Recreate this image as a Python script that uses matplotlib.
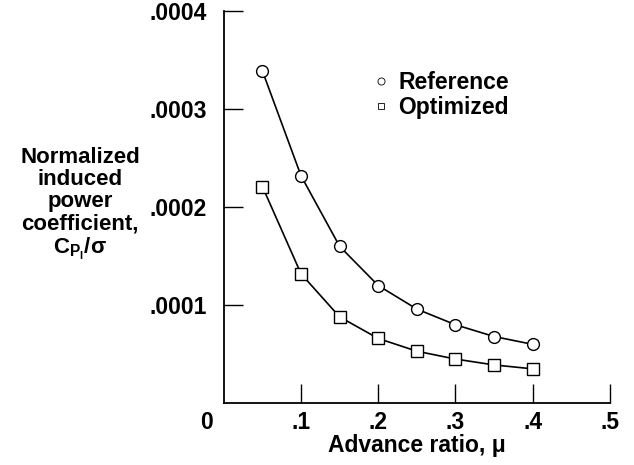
"""
Induced power coefficient vs advance ratio, reference and optimized rotor
"""

import matplotlib
matplotlib.use('Agg')
import matplotlib.pyplot as plt

mu = [0.05, 0.10, 0.15, 0.20, 0.25, 0.30, 0.35, 0.40]
cp_reference = [3.39e-4, 2.32e-4, 1.60e-4, 1.20e-4, 0.96e-4, 0.80e-4, 0.68e-4, 0.60e-4]
cp_optimized = [2.21e-4, 1.32e-4, 0.88e-4, 0.66e-4, 0.53e-4, 0.45e-4, 0.39e-4, 0.35e-4]

xticks = [0.1, 0.2, 0.3, 0.4, 0.5]
xticklabels = ['.1', '.2', '.3', '.4', '.5']
yticks = [0.0001, 0.0002, 0.0003, 0.0004]
yticklabels = ['.0001', '.0002', '.0003', '.0004']

plt.rcParams['font.family'] = ['Liberation Sans', 'DejaVu Sans']
plt.rcParams['font.weight'] = 'bold'
plt.rcParams['mathtext.fontset'] = 'custom'
plt.rcParams['mathtext.rm'] = 'Liberation Sans:bold'
plt.rcParams['mathtext.it'] = 'Liberation Sans:bold'


def main():
    fig = plt.figure(figsize=(6.34, 4.65), dpi=100)
    ax = fig.add_axes([0.353, 0.133, 0.609, 0.843])

    ax.plot(mu, cp_reference, '-', color='k', lw=1.2, marker='o', ms=8.5,
            mfc='white', mec='k', mew=1.0, label='Reference')
    ax.plot(mu, cp_optimized, '-', color='k', lw=1.2, marker='s', ms=8,
            mfc='white', mec='k', mew=1.0, label='Optimized')

    ax.set_xlim(0, 0.5)
    ax.set_ylim(0, 0.0004)
    ax.spines['top'].set_visible(False)
    ax.spines['right'].set_visible(False)
    for s in ('left', 'bottom'):
        ax.spines[s].set_linewidth(1.3)

    ax.set_xticks(xticks)
    ax.set_xticklabels(xticklabels)
    ax.set_yticks(yticks)
    ax.set_yticklabels(yticklabels)
    ax.tick_params(direction='in', length=14, width=1.0, labelsize=16.5, pad=6)
    ax.tick_params(axis='y', pad=12)

    # shared origin label
    ax.text(-0.023, -0.0000085, '0', ha='center', va='top', fontsize=16.5,
            fontweight='bold')

    ax.set_xlabel('Advance ratio, \u03bc', fontsize=16.5, fontweight='bold',
                  labelpad=0)
    fig.text(0.126, 0.56,
             'Normalized\ninduced\npower\ncoefficient,\n$\\mathregular{C_{P_l}/\\sigma}$',
             ha='center', va='center', fontsize=16, fontweight='bold',
             linespacing=1.08)

    leg = ax.legend(loc='upper left', bbox_to_anchor=(0.34, 0.9), frameon=False,
                    handlelength=0.5, handletextpad=0.5, labelspacing=0.1,
                    fontsize=16.5, markerscale=0.6)
    for line in leg.get_lines():
        line.set_linestyle('none')
        line.set_markeredgewidth(0.6)

    plt.savefig('out.png', dpi=100)


if __name__ == '__main__':
    main()
